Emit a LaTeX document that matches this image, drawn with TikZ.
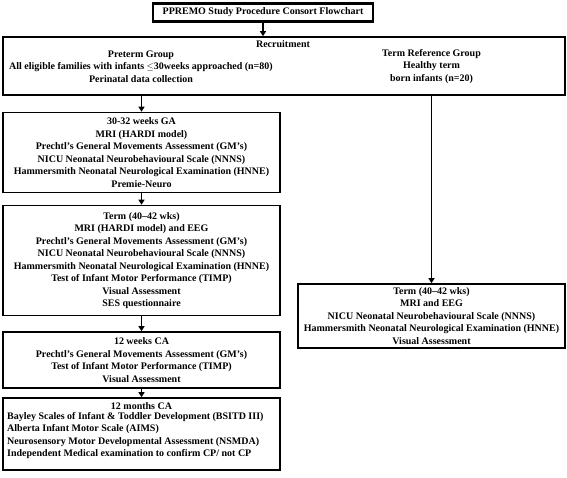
\documentclass[tikz,border=0pt]{standalone}
\usepackage{fontspec}
\setmainfont{Liberation Serif}
\usetikzlibrary{arrows.meta}
\tikzset{
  frame/.style={draw=black, line width=1.6pt, inner sep=0pt},
  txt/.style={font=\fontsize{10}{12.5}\selectfont\bfseries, align=center, inner sep=0pt},
  arr/.style={line width=1.6pt, -{Triangle[length=5pt,width=6pt]}},
}
\begin{document}
\begin{tikzpicture}[x=1pt,y=-1pt]
\useasboundingbox (0,0) rectangle (567,478);
% title
\node[frame, line width=2.2pt, txt, minimum width=220pt, minimum height=18pt] (title) at (263,12.5) {PPREMO Study Procedure Consort Flowchart};
% recruitment
\node[frame, minimum width=562pt, minimum height=58pt] (rec) at (284,66) {};
\node[txt] (rectitle) at (283,44) {Recruitment};
\node[txt] (pre) at (141,66.5) {Preterm Group\\All eligible families with infants {\fontsize{9}{12.5}\selectfont$\leq$}30weeks approached (n=80)\\Perinatal data collection};
\node[txt] (termgrp) at (431.5,66.5) {Term Reference Group\\Healthy term\\born infants (n=20)};
% 30-32
\node[frame, txt, minimum width=277pt, minimum height=80pt] (ga) at (141.5,152.5) {30-32 weeks GA\\MRI (HARDI model)\\Prechtl's General Movements Assessment (GM's)\\NICU Neonatal Neurobehavioural Scale (NNNS)\\Hammersmith Neonatal Neurological Examination (HNNE)\\Premie-Neuro};
% term preterm
\node[frame, txt, minimum width=277pt, minimum height=110pt] (term) at (141.5,260.5) {Term (40--42 wks)\\MRI (HARDI model) and EEG\\Prechtl's General Movements Assessment (GM's)\\NICU Neonatal Neurobehavioural Scale (NNNS)\\Hammersmith Neonatal Neurological Examination (HNNE)\\Test of Infant Motor Performance (TIMP)\\Visual Assessment\\SES questionnaire};
% 12 weeks
\node[frame, txt, minimum width=277pt, minimum height=56pt] (wk) at (141.5,360) {12 weeks CA\\Prechtl's General Movements Assessment (GM's)\\Test of Infant Motor Performance (TIMP)\\Visual Assessment};
% 12 months
\node[frame, minimum width=277pt, minimum height=72pt] (mo) at (141.5,434) {};
\node[txt] (motitle) at (141.5,406) {12 months CA};
\node[txt, align=left, anchor=north west] (molist) at (7,412) {Bayley Scales of Infant \& Toddler Development (BSITD III)\\Alberta Infant Motor Scale (AIMS)\\Neurosensory Motor Developmental Assessment (NSMDA)\\Independent Medical examination to confirm CP/ not CP};
% term reference box
\node[frame, txt, minimum width=267pt, minimum height=64pt] (tref) at (431.5,316) {Term (40--42 wks)\\MRI and EEG\\NICU Neonatal Neurobehavioural Scale (NNNS)\\Hammersmith Neonatal Neurological Examination (HNNE)\\Visual Assessment};
% arrows
\draw[arr] (title.south) -- (title.south |- rec.north);
\draw[arr] (ga.north |- rec.south) -- (ga.north);
\draw[arr] (ga.south) -- (term.north);
\draw[arr] (term.south) -- (wk.north);
\draw[arr] (wk.south) -- (mo.north);
\draw[arr] (tref.north |- rec.south) -- (tref.north);
\end{tikzpicture}
\end{document}
